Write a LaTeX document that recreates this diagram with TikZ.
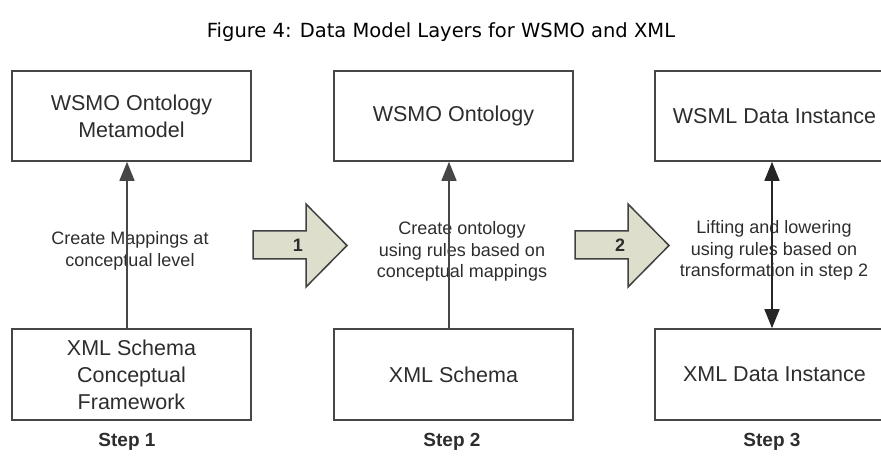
\documentclass[tikz,border=0pt]{standalone}
\usepackage{fontspec}
\setmainfont{Liberation Sans}
\newfontfamily\titlefont{DejaVu Sans}
\usetikzlibrary{arrows.meta}
\definecolor{arrowfill}{RGB}{221,223,204}
\definecolor{boxline}{RGB}{70,70,70}
\definecolor{txt}{RGB}{45,45,45}
\begin{document}
\begin{tikzpicture}[x=1pt,y=-1pt,
  box/.style={draw=boxline, line width=1.6pt, minimum width=239pt, minimum height=90pt, inner sep=0pt, align=center, font=\fontsize{21.5}{27}\selectfont, text=txt},
  lbl/.style={align=center, font=\fontsize{18}{21.5}\selectfont, text=txt, inner sep=0pt},
  steplbl/.style={font=\bfseries\fontsize{19}{22}\selectfont, text=txt, inner sep=0pt},
  numlbl/.style={font=\bfseries\fontsize{18}{21.5}\selectfont, text=txt, inner sep=0pt},
  conn/.style={draw=black!72, line width=1.5pt, -{Triangle[length=19pt,width=15pt]}},
  dconn/.style={draw=black!85, line width=1.5pt, {Triangle[length=19pt,width=15pt]}-{Triangle[length=19pt,width=15pt]}},
  blockarrow/.style={draw=black!75, line width=1.5pt, fill=arrowfill, line join=miter},
]
\useasboundingbox (0,0) rectangle (881,462);
\clip (0,0) rectangle (881,462);

\node[font=\titlefont\fontsize{19.5}{24}\selectfont, inner sep=0pt, anchor=base] (title) at (441,38) {Figure 4: Data Model Layers for WSMO and XML};

% boxes
\node[box] (t1) at (131.5,116) {WSMO Ontology\\Metamodel};
\node[box, minimum height=91pt] (b1) at (131.5,374.5) {XML Schema\\Conceptual\\Framework};
\node[box] (t2) at (453.5,116) {WSMO Ontology};
\node[box, minimum height=91pt] (b2) at (453.5,374.5) {XML Schema};
\node[box] (t3) at (774.5,116) {WSML Data Instance};
\node[box, minimum height=91pt] (b3) at (774.5,374.5) {XML Data Instance};

% labels
\node[lbl] (l1) at (130,251) {Create Mappings at\\conceptual level};
\node[lbl] (l2) at (462,251.5) {Create ontology\\using rules based on\\conceptual mappings};
\node[lbl] (l3) at (774,250.5) {Lifting and lowering\\using rules based on\\transformation in step 2};

% connectors
\draw[conn] ([xshift=-4.5pt]b1.north) -- ([xshift=-4.5pt]t1.south);
\draw[conn] ([xshift=-4.5pt]b2.north) -- ([xshift=-4.5pt]t2.south);
\draw[dconn] ([xshift=-2.5pt]b3.north) -- ([xshift=-2.5pt]t3.south);

% block arrows
\draw[blockarrow] (253,231) -- (306,231) -- (306,204) -- (347,245.5) -- (306,287) -- (306,259) -- (253,259) -- cycle;
\node[numlbl] (n1) at (298,245) {1};
\draw[blockarrow] (575,231) -- (628,231) -- (628,204) -- (669,245.5) -- (628,287) -- (628,259) -- (575,259) -- cycle;
\node[numlbl] (n2) at (620,245) {2};

% step labels
\node[steplbl] (s1) at (127,442) {Step 1};
\node[steplbl] (s2) at (452,442) {Step 2};
\node[steplbl] (s3) at (772,442) {Step 3};
\end{tikzpicture}
\end{document}
